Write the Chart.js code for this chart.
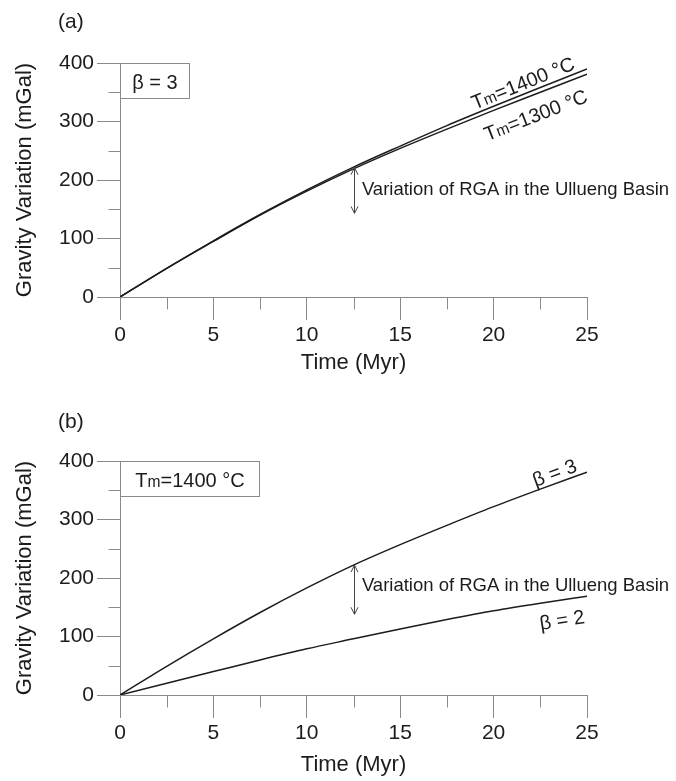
<!DOCTYPE html>
<html>
<head>
<meta charset="utf-8">
<title>Gravity variation vs time</title>
<script src="https://cdn.jsdelivr.net/npm/chart.js@4.4.1/dist/chart.umd.min.js"></script>
<style>
  html, body { margin: 0; padding: 0; background: #fff; }
  canvas { display: block; }
</style>
</head>
<body>
<canvas id="chartA" width="676" height="390"></canvas>
<canvas id="chartB" width="676" height="391"></canvas>
<script>
// time axis and model curves (mGal)
const timeMyr = [0, 2.5, 5, 7.5, 10, 12.5, 15, 17.5, 20, 22.5, 25];
const gravTm1400 = [0, 49, 96, 141, 183, 222, 258, 293, 326, 358, 390];
const gravTm1300 = [0, 49, 95, 140, 181, 219, 254, 287, 319, 350, 381];
const gravBeta3 = [0, 49, 96, 141, 183, 222, 257, 290, 322, 352, 381];
const gravBeta2 = [0, 20, 40, 60, 79, 96, 113, 129, 144, 157, 169];

const xTicks = [0, 5, 10, 15, 20, 25];
const xMinor = [2.5, 7.5, 12.5, 17.5, 22.5];
const yTicks = [0, 100, 200, 300, 400];
const yMinor = [50, 150, 250, 350];

const FONT = "'Liberation Sans', Arial, sans-serif";
const AXIS_GREY = '#8a8a8a';
const INK = '#1c1c1c';

const tm1400Runs = [['T', 1], ['m', 0.78], ['=1400 °C', 1]];
const tm1300Runs = [['T', 1], ['m', 0.78], ['=1300 °C', 1]];

function valueAt(series, t) {
    for (let i = 1; i < timeMyr.length; i++) {
        if (t <= timeMyr[i]) {
            const f = (t - timeMyr[i - 1]) / (timeMyr[i] - timeMyr[i - 1]);
            return series[i - 1] + f * (series[i] - series[i - 1]);
        }
    }
    return series[series.length - 1];
}

// draws text made of runs with different sizes on one baseline
function drawRuns(ctx, runs, size, x, y, align) {
    const widths = runs.map(([s, k]) => {
        ctx.font = (size * k) + 'px ' + FONT;
        return ctx.measureText(s).width;
    });
    const total = widths.reduce((a, b) => a + b, 0);
    let cx = align === 'right' ? x - total : align === 'center' ? x - total / 2 : x;
    ctx.textAlign = 'left';
    ctx.textBaseline = 'alphabetic';
    runs.forEach(([s, k], i) => {
        ctx.font = (size * k) + 'px ' + FONT;
        ctx.fillText(s, cx, y);
        cx += widths[i];
    });
}

const panelDecor = {
    id: 'panelDecor',
    afterDraw(chart, args, opts) {
        const ctx = chart.ctx;
        const xs = chart.scales.x;
        const ys = chart.scales.y;
        const left = Math.round(xs.left) + 0.5;
        const bottom = Math.round(ys.bottom) + 0.5;
        ctx.save();

        // minor ticks
        ctx.strokeStyle = AXIS_GREY;
        ctx.lineWidth = 1;
        ctx.beginPath();
        yMinor.forEach(v => {
            const py = Math.round(ys.getPixelForValue(v)) + 0.5;
            ctx.moveTo(left - 12, py);
            ctx.lineTo(left, py);
        });
        xMinor.forEach(v => {
            const px = Math.round(xs.getPixelForValue(v)) + 0.5;
            ctx.moveTo(px, bottom);
            ctx.lineTo(px, bottom + 12);
        });
        ctx.stroke();

        // panel letter
        ctx.fillStyle = INK;
        ctx.font = '21px ' + FONT;
        ctx.textAlign = 'left';
        ctx.textBaseline = 'middle';
        ctx.fillText(opts.letter, 58, opts.letterY);

        // parameter box
        const bx0 = left;
        const bx1 = Math.round(xs.getPixelForValue(opts.box.t1)) + 0.5;
        const by0 = Math.round(ys.getPixelForValue(400)) + 0.5;
        const by1 = Math.round(ys.getPixelForValue(opts.box.vLow)) + 0.5;
        ctx.strokeStyle = AXIS_GREY;
        ctx.strokeRect(bx0, by0, bx1 - bx0, by1 - by0);
        ctx.fillStyle = INK;
        drawRuns(ctx, opts.box.runs, 20, (bx0 + bx1) / 2, (by0 + by1) / 2 + 7.5, 'center');

        // double arrow
        const ax = Math.round(xs.getPixelForValue(opts.arrow.t)) + 0.5;
        const aTop = ys.getPixelForValue(opts.arrow.top);
        const aBot = ys.getPixelForValue(opts.arrow.bottom);
        ctx.strokeStyle = '#444';
        ctx.beginPath();
        ctx.moveTo(ax, aTop);
        ctx.lineTo(ax, aBot);
        ctx.moveTo(ax - 3.5, aTop + 7);
        ctx.lineTo(ax, aTop);
        ctx.lineTo(ax + 3.5, aTop + 7);
        ctx.moveTo(ax - 3.5, aBot - 7);
        ctx.lineTo(ax, aBot);
        ctx.lineTo(ax + 3.5, aBot - 7);
        ctx.stroke();

        ctx.fillStyle = INK;
        ctx.font = '18.5px ' + FONT;
        ctx.textAlign = 'left';
        ctx.textBaseline = 'middle';
        ctx.fillText('Variation of RGA in the Ullueng Basin',
            xs.getPixelForValue(opts.note.t), ys.getPixelForValue(opts.note.v));

        // curve labels, rotated along the end of each curve
        opts.labels.forEach(lb => {
            const px = xs.getPixelForValue(lb.t);
            const py = ys.getPixelForValue(valueAt(lb.series, lb.t));
            const px0 = xs.getPixelForValue(lb.t - 5);
            const py0 = ys.getPixelForValue(valueAt(lb.series, lb.t - 5));
            const ang = Math.atan2(py - py0, px - px0);
            ctx.save();
            ctx.translate(px, py);
            ctx.rotate(ang);
            const yOff = lb.side === 'above' ? -lb.gap : lb.gap + 20 * 0.716;
            drawRuns(ctx, lb.runs, 20, 0, yOff, 'right');
            ctx.restore();
        });

        ctx.restore();
    }
};

function series(values, width) {
    return {
        data: timeMyr.map((t, i) => ({ x: t, y: values[i] })),
        borderColor: INK,
        borderWidth: width,
        pointRadius: 0,
        fill: false,
        cubicInterpolationMode: 'monotone'
    };
}

function makePanel(id, datasets, padTop, padBottom, xBoxHeight, decor) {
    return new Chart(document.getElementById(id), {
        type: 'line',
        data: { datasets: datasets },
        plugins: [panelDecor],
        options: {
            responsive: false,
            animation: false,
            devicePixelRatio: 1,
            layout: { padding: { top: padTop, right: 89, bottom: padBottom, left: 0 } },
            plugins: {
                legend: { display: false },
                tooltip: { enabled: false },
                panelDecor: decor
            },
            scales: {
                x: {
                    type: 'linear',
                    min: 0,
                    max: 25,
                    afterBuildTicks: s => { s.ticks = xTicks.map(v => ({ value: v })); },
                    afterFit: s => { s.height = xBoxHeight; },
                    grid: { drawOnChartArea: false, drawTicks: true, tickLength: 23, tickColor: AXIS_GREY, tickWidth: 1 },
                    border: { color: AXIS_GREY, width: 1 },
                    ticks: { color: INK, font: { family: FONT, size: 21 }, padding: 3, maxRotation: 0 },
                    title: {
                        display: true,
                        text: 'Time (Myr)',
                        color: INK,
                        font: { family: FONT, size: 22 },
                        padding: { top: 0, bottom: 1 }
                    }
                },
                y: {
                    type: 'linear',
                    min: 0,
                    max: 400,
                    afterBuildTicks: s => { s.ticks = yTicks.map(v => ({ value: v })); },
                    afterFit: s => { s.width = 120; },
                    grid: { drawOnChartArea: false, drawTicks: true, tickLength: 23, tickColor: AXIS_GREY, tickWidth: 1 },
                    border: { color: AXIS_GREY, width: 1 },
                    ticks: { color: INK, font: { family: FONT, size: 21 }, padding: 3 },
                    title: {
                        display: true,
                        text: 'Gravity Variation (mGal)',
                        color: INK,
                        font: { family: FONT, size: 22 },
                        padding: { top: 12, bottom: 0 }
                    }
                }
            }
        }
    });
}

makePanel('chartA', [series(gravTm1400, 1.5), series(gravTm1300, 1.5)], 63, 13, 80, {
    letter: '(a)',
    letterY: 22,
    box: { t1: 3.7, vLow: 340, runs: [['β = 3', 1]] },
    arrow: { t: 12.5, top: 221, bottom: 143 },
    note: { t: 12.95, v: 183 },
    labels: [
        { runs: tm1400Runs, series: gravTm1400, t: 24.5, side: 'above', gap: 4 },
        { runs: tm1300Runs, series: gravTm1300, t: 24.6, side: 'below', gap: 12 }
    ]
});

makePanel('chartB', [series(gravBeta3, 1.5), series(gravBeta2, 1.5)], 71, 2, 84, {
    letter: '(b)',
    letterY: 32,
    box: { t1: 7.45, vLow: 341, runs: tm1400Runs },
    arrow: { t: 12.5, top: 222, bottom: 138 },
    note: { t: 12.95, v: 187 },
    labels: [
        { runs: [['β = 3', 1]], series: gravBeta3, t: 24.6, side: 'above', gap: 4 },
        { runs: [['β = 2', 1]], series: gravBeta2, t: 24.7, side: 'below', gap: 12 }
    ]
});
</script>
</body>
</html>
